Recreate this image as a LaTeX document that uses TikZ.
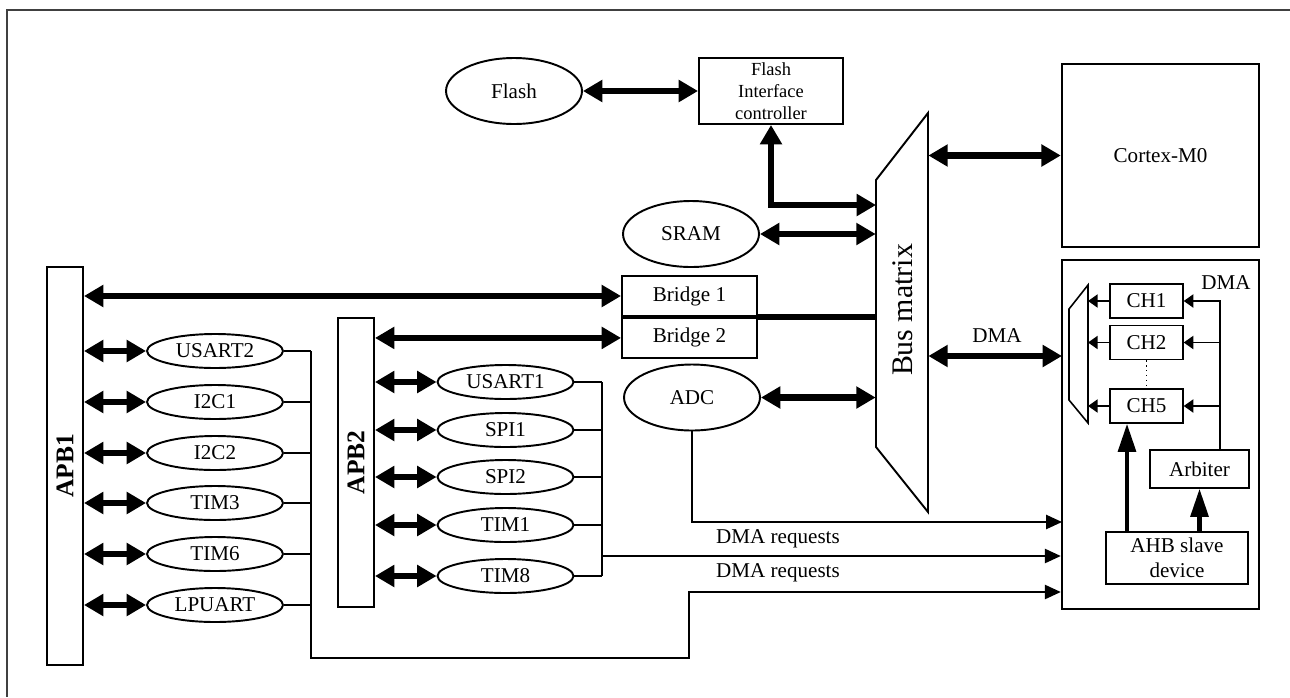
\documentclass[tikz,border=0pt]{standalone}
\usepackage{fontspec}
\setmainfont{Liberation Serif}
\usetikzlibrary{arrows.meta,positioning,shapes.geometric,calc}
\tikzset{
  blk/.style     = {draw,line width=1.1pt,inner sep=2pt,align=center,
                    font=\fontsize{12}{14.5}\selectfont},
  per/.style     = {ellipse,draw,line width=1.1pt,inner sep=0pt,
                    minimum width=2.72cm,minimum height=0.68cm,
                    font=\fontsize{12}{14}\selectfont},
  mem/.style     = {per,minimum height=1.32cm},
  bar/.style     = {draw,line width=1.1pt,minimum width=0.72cm},
  barlbl/.style  = {rotate=90,font=\bfseries\fontsize{14.5}{16}\selectfont},
  chbox/.style   = {blk,line width=0.8pt,minimum width=1.46cm,minimum height=0.68cm},
  busarr/.style  = {{Triangle[length=11pt,width=12pt]}-{Triangle[length=11pt,width=12pt]},
                    line width=3.6pt},
  busline/.style = {line width=3.6pt},
  req/.style     = {-{Triangle[length=9pt,width=8pt]},line width=1.1pt},
  chan/.style    = {-{Triangle[length=5.5pt,width=7.5pt]},line width=0.9pt},
  upar/.style    = {-{Triangle[length=16pt,width=10pt]},line width=2.4pt},
  wire/.style    = {line width=1.1pt},
  lbl/.style     = {font=\fontsize{12}{14}\selectfont,inner sep=1pt},
}

\begin{document}
\begin{tikzpicture}[x=0.02cm,y=-0.02cm]
  \useasboundingbox (0,0) rectangle (1290,697);
  \draw[line width=0.8pt,black!75] (1290,10) -- (7,10) -- (7,697);

  % memories and core
  \node[mem] (flash) at (514,91) {Flash};
  \node[blk,minimum width=2.88cm,minimum height=1.32cm,
        font=\fontsize{10.5}{12.5}\selectfont] (fic) at (771,91) {Flash\\Interface\\controller};
  \node[mem] (sram) at (691,234) {SRAM};
  \node[mem] (adc) at (692,397.5) {ADC};
  \node[blk,line width=1.4pt,minimum width=3.94cm,minimum height=3.66cm] (cortex) at (1160.5,155.5) {Cortex-M0};
  \node[blk,line width=1.4pt,minimum width=3.94cm,minimum height=6.98cm] (dma) at (1160.5,434.5) {};
  \node[blk,minimum width=2.7cm,minimum height=0.8cm] (brA) at (689.5,296) {Bridge 1};
  \node[blk,minimum width=2.7cm,minimum height=0.8cm,below=0pt of brA] (brB) {Bridge 2};

  % bus matrix
  \node[minimum width=1.04cm,minimum height=7.98cm,inner sep=0pt] (busm) at (902,312.5) {};
  \draw[line width=1.1pt] (928,113) -- (928,512) -- (876,447) -- (876,180) -- cycle;
  \node[rotate=90,font=\fontsize{17}{19}\selectfont] (buslbl) at (902.5,310) {Bus matrix};

  \coordinate (ficport) at (876,205);
  \coordinate (dmaport) at (1062,356);
  \draw[busarr] (flash.east) -- (fic.west);
  \draw[busarr] (fic.south) |- (ficport);
  \draw[busarr] (sram.east) -- (busm.west |- sram);
  \draw[busarr] (adc.east) -- (busm.west |- adc);
  \draw[busarr] (busm.east |- cortex) -- (cortex.west);
  \draw[busarr] (busm.east |- dmaport) -- (dmaport);
  \node[lbl] (dmabus) at (997,336) {DMA};
  \draw[busline] (brA.south east) -- (busm.west |- brA.south east);

  % APB buses
  \node[bar,minimum height=7.96cm] (apbA) at (65,466) {};
  \node[barlbl] (apbAlbl) at (apbA) {APB1};
  \node[bar,minimum height=5.78cm] (apbB) at (356,462.5) {};
  \node[barlbl] (apbBlbl) at (apbB) {APB2};
  \draw[busarr] (apbA.east |- brA) -- (brA.west);
  \draw[busarr] (apbB.east |- brB) -- (brB.west);

  \coordinate (jA) at (311,658);
  \coordinate (kA) at (689,592);
  \foreach \nm/\yy in {USART2/351,I2C1/402,I2C2/453,TIM3/503,TIM6/554,LPUART/605} {
    \node[per] (\nm) at (215,\yy) {\nm};
    \draw[busarr] (apbA.east |- \nm) -- (\nm.west);
    \draw[wire] (\nm.east) -- (\nm.east -| jA);
  }
  \coordinate (jB) at (602,556);
  \foreach \nm/\yy in {USART1/382,SPI1/430,SPI2/477,TIM1/525,TIM8/576} {
    \node[per] (\nm) at (505.5,\yy) {\nm};
    \draw[busarr] (apbB.east |- \nm) -- (\nm.west);
    \draw[wire] (\nm.east) -- (\nm.east -| jB);
  }

  % DMA requests
  \coordinate (rqA) at (1062,522);
  \draw[req] (adc.south) |- (rqA);
  \draw[wire] (USART1.east -| jB) -- (TIM8.east -| jB);
  \draw[req] (jB) -- (dma.west |- jB);
  \draw[req] (USART2.east -| jA) -- (jA) -| (kA) -- (dma.west |- kA);
  \node[lbl] (rqlblA) at (778,539) {DMA requests};
  \node[lbl] (rqlblB) at (778,573) {DMA requests};

  % inside the DMA
  \node[lbl] (dmalbl) at (1226,283) {DMA};
  \draw[line width=0.9pt] (1088,285) -- (1088,423) -- (1069,400) -- (1069,309) -- cycle;
  \coordinate (muxr) at (1088,354);
  \node[chbox] (ch1) at (1146.5,301) {CH1};
  \node[chbox] (ch2) at (1146.5,342.5) {CH2};
  \node[chbox] (ch5) at (1146.5,406) {CH5};
  \node[blk,line width=0.8pt,minimum width=1.98cm,minimum height=0.76cm] (arb) at (1199.5,469) {Arbiter};
  \node[blk,line width=0.8pt,minimum width=2.84cm,minimum height=1.04cm] (ahb) at (1177,558) {AHB slave\\device};
  \coordinate (tap) at (1220,450);
  \draw[chan] (tap) |- (ch1.east);
  \draw[chan] (tap |- ch2) -- (ch2.east);
  \draw[chan] (tap |- ch5) -- (ch5.east);
  \foreach \c in {ch1,ch2,ch5}
    \draw[chan] (\c.west) -- (muxr |- \c);
  \draw[dotted,line width=0.8pt] (ch2.south) -- (ch5.north);
  \coordinate (ahbA) at (1127,532);
  \draw[upar] (ahbA) -- (ahbA |- ch5.south);
  \draw[upar] (ahb.north -| arb) -- (arb.south);
\end{tikzpicture}
\end{document}
